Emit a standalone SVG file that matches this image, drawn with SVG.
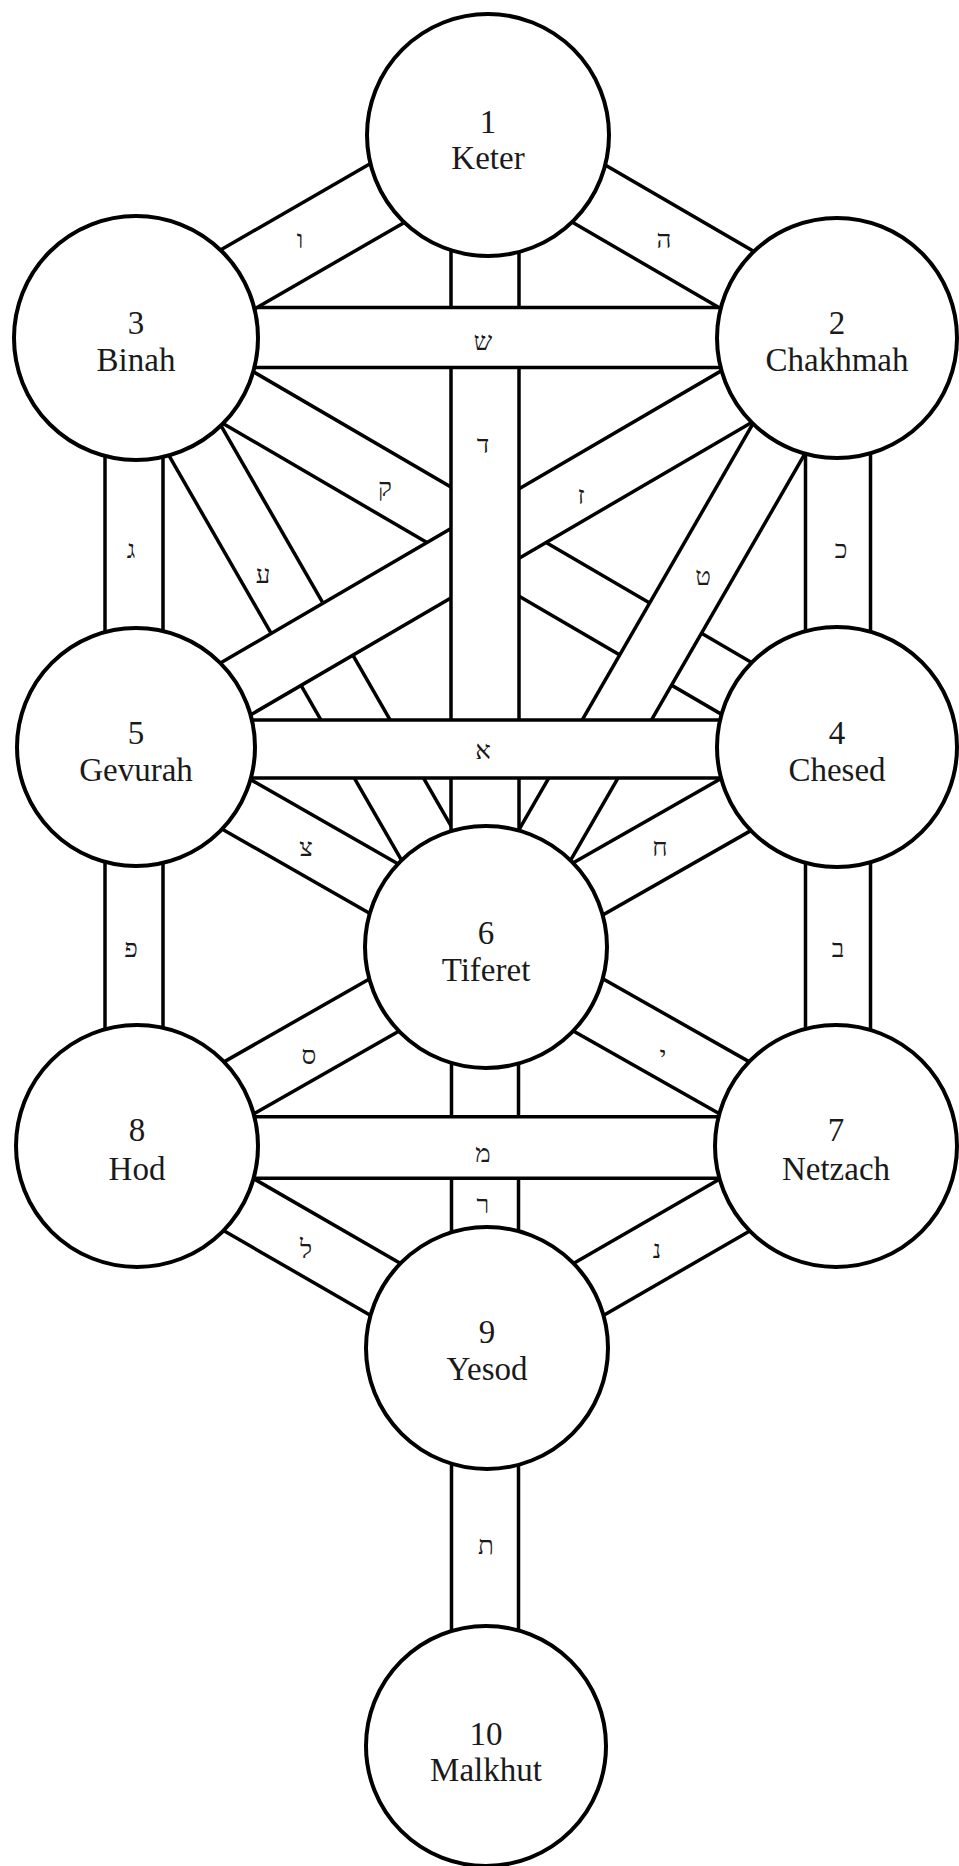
<svg xmlns="http://www.w3.org/2000/svg" xmlns:xlink="http://www.w3.org/1999/xlink" width="959" height="1866" viewBox="0 0 959 1866">
<style>
  .o{stroke:#000;stroke-linecap:butt;fill:none}
  .i{stroke:#fff;stroke-linecap:butt;fill:none}
  .node circle{fill:#fff;stroke:#000;stroke-width:4}
  .node text{font-family:"Liberation Serif","DejaVu Serif",serif;font-size:33px;fill:#1a1a1a;text-anchor:middle}
  .lbl{font-family:"Liberation Serif","DejaVu Sans",serif;font-size:26px;fill:#1a1a1a;text-anchor:middle}
</style>
<rect width="959" height="1866" fill="#fff"/>
<g id="connectors">
  <!-- qof: Binah-Chesed -->
  <g id="path-qof"><line class="o" stroke-width="63.5" x1="136" y1="338" x2="837" y2="747"/><line class="i" stroke-width="56.5" x1="136" y1="338" x2="837" y2="747"/></g>
  <!-- ayin: Binah-Tiferet -->
  <g id="path-ayin"><line class="o" stroke-width="63.5" x1="136" y1="338" x2="486" y2="947"/><line class="i" stroke-width="56.5" x1="136" y1="338" x2="486" y2="947"/></g>
  <!-- tet: Chakhmah-Tiferet -->
  <g id="path-tet"><line class="o" stroke-width="63.5" x1="837" y1="338" x2="486" y2="947"/><line class="i" stroke-width="56.5" x1="837" y1="338" x2="486" y2="947"/></g>
  <!-- zayin: Chakhmah-Gevurah -->
  <g id="path-zayin"><line class="o" stroke-width="63.5" x1="837" y1="338" x2="136" y2="747"/><line class="i" stroke-width="56.5" x1="837" y1="338" x2="136" y2="747"/></g>
  <!-- dalet: Keter-Tiferet -->
  <g id="path-dalet"><line class="o" stroke-width="71.5" x1="485" y1="135" x2="485" y2="947"/><line class="i" stroke-width="64.5" x1="485" y1="135" x2="485" y2="947"/></g>
  <!-- shin: Binah-Chakhmah -->
  <g id="path-shin"><line class="o" stroke-width="63.5" x1="136" y1="337.5" x2="837" y2="337.5"/><line class="i" stroke-width="56.5" x1="136" y1="337.5" x2="837" y2="337.5"/></g>
  <!-- alef: Gevurah-Chesed -->
  <g id="path-alef"><line class="o" stroke-width="61.5" x1="136" y1="749" x2="837" y2="749"/><line class="i" stroke-width="54.5" x1="136" y1="749" x2="837" y2="749"/></g>
  <!-- vav: Keter-Binah -->
  <g id="path-vav"><line class="o" stroke-width="71.5" x1="488" y1="135" x2="136" y2="338"/><line class="i" stroke-width="64.5" x1="488" y1="135" x2="136" y2="338"/></g>
  <!-- he: Keter-Chakhmah -->
  <g id="path-he"><line class="o" stroke-width="69.5" x1="488" y1="135" x2="837" y2="338"/><line class="i" stroke-width="62.5" x1="488" y1="135" x2="837" y2="338"/></g>
  <!-- gimel: Binah-Gevurah -->
  <g id="path-gimel"><line class="o" stroke-width="61.5" x1="134" y1="338" x2="134" y2="747"/><line class="i" stroke-width="54.5" x1="134" y1="338" x2="134" y2="747"/></g>
  <!-- kaf: Chakhmah-Chesed -->
  <g id="path-kaf"><line class="o" stroke-width="68.5" x1="838" y1="338" x2="838" y2="747"/><line class="i" stroke-width="61.5" x1="838" y1="338" x2="838" y2="747"/></g>
  <!-- tsadi: Gevurah-Tiferet -->
  <g id="path-tsadi"><line class="o" stroke-width="60.5" x1="136" y1="747" x2="486" y2="947"/><line class="i" stroke-width="53.5" x1="136" y1="747" x2="486" y2="947"/></g>
  <!-- chet: Chesed-Tiferet -->
  <g id="path-chet"><line class="o" stroke-width="63.5" x1="837" y1="747" x2="486" y2="947"/><line class="i" stroke-width="56.5" x1="837" y1="747" x2="486" y2="947"/></g>
  <!-- pe: Gevurah-Hod -->
  <g id="path-pe"><line class="o" stroke-width="61.5" x1="134" y1="747" x2="134" y2="1146"/><line class="i" stroke-width="54.5" x1="134" y1="747" x2="134" y2="1146"/></g>
  <!-- bet: Chesed-Netzach -->
  <g id="path-bet"><line class="o" stroke-width="68.5" x1="838" y1="747" x2="838" y2="1146"/><line class="i" stroke-width="61.5" x1="838" y1="747" x2="838" y2="1146"/></g>
  <!-- samekh: Tiferet-Hod -->
  <g id="path-samekh"><line class="o" stroke-width="63.5" x1="486" y1="947" x2="137" y2="1146"/><line class="i" stroke-width="56.5" x1="486" y1="947" x2="137" y2="1146"/></g>
  <!-- yod: Tiferet-Netzach -->
  <g id="path-yod"><line class="o" stroke-width="63.5" x1="486" y1="947" x2="837" y2="1146"/><line class="i" stroke-width="56.5" x1="486" y1="947" x2="837" y2="1146"/></g>
  <!-- resh: Tiferet-Yesod -->
  <g id="path-resh"><line class="o" stroke-width="70.5" x1="485" y1="947" x2="485" y2="1348"/><line class="i" stroke-width="63.5" x1="485" y1="947" x2="485" y2="1348"/></g>
  <!-- mem: Hod-Netzach -->
  <g id="path-mem"><line class="o" stroke-width="65" x1="137" y1="1147.5" x2="837" y2="1147.5"/><line class="i" stroke-width="58" x1="137" y1="1147.5" x2="837" y2="1147.5"/></g>
  <!-- lamed: Hod-Yesod -->
  <g id="path-lamed"><line class="o" stroke-width="63.5" x1="137" y1="1146" x2="487" y2="1348"/><line class="i" stroke-width="56.5" x1="137" y1="1146" x2="487" y2="1348"/></g>
  <!-- nun: Netzach-Yesod -->
  <g id="path-nun"><line class="o" stroke-width="63.5" x1="837" y1="1146" x2="487" y2="1348"/><line class="i" stroke-width="56.5" x1="837" y1="1146" x2="487" y2="1348"/></g>
  <!-- tav: Yesod-Malkhut -->
  <g id="path-tav"><line class="o" stroke-width="70.5" x1="485" y1="1348" x2="485" y2="1746"/><line class="i" stroke-width="63.5" x1="485" y1="1348" x2="485" y2="1746"/></g>

  <g id="path-labels">
    <text class="lbl" x="300" y="248">ו</text>
    <text class="lbl" x="664" y="248">ה</text>
    <text class="lbl" x="483" y="350">ש</text>
    <text class="lbl" x="483" y="453">ד</text>
    <text class="lbl" x="385" y="496">ק</text>
    <text class="lbl" x="581" y="504">ז</text>
    <text class="lbl" x="131" y="558">ג</text>
    <text class="lbl" x="263" y="583">ע</text>
    <text class="lbl" x="703" y="585">ט</text>
    <text class="lbl" x="841" y="558">כ</text>
    <text class="lbl" x="483" y="759">א</text>
    <text class="lbl" x="306" y="856">צ</text>
    <text class="lbl" x="660" y="856">ח</text>
    <text class="lbl" x="131" y="957">פ</text>
    <text class="lbl" x="838" y="957">ב</text>
    <text class="lbl" x="309" y="1064">ס</text>
    <text class="lbl" x="663" y="1064">י</text>
    <text class="lbl" x="483" y="1162">מ</text>
    <text class="lbl" x="483" y="1213">ר</text>
    <text class="lbl" x="306" y="1258">ל</text>
    <text class="lbl" x="657" y="1258">נ</text>
    <text class="lbl" x="486" y="1554">ת</text>
  </g>
</g>
<g id="node-1" class="node"><circle cx="488" cy="135" r="121"/><text x="488" y="133">1</text><text x="488" y="169">Keter</text></g>
<g id="node-2" class="node"><circle cx="837" cy="338" r="120"/><text x="837" y="334">2</text><text x="837" y="371">Chakhmah</text></g>
<g id="node-3" class="node"><circle cx="136" cy="338" r="122"/><text x="136" y="334">3</text><text x="136" y="371">Binah</text></g>
<g id="node-4" class="node"><circle cx="837" cy="747" r="120"/><text x="837" y="744">4</text><text x="837" y="781">Chesed</text></g>
<g id="node-5" class="node"><circle cx="136" cy="747" r="119"/><text x="136" y="744">5</text><text x="136" y="781">Gevurah</text></g>
<g id="node-6" class="node"><circle cx="486" cy="947" r="121"/><text x="486" y="944">6</text><text x="486" y="981">Tiferet</text></g>
<g id="node-7" class="node"><circle cx="836" cy="1146" r="121"/><text x="836" y="1141">7</text><text x="836" y="1180">Netzach</text></g>
<g id="node-8" class="node"><circle cx="137" cy="1146" r="121"/><text x="137" y="1141">8</text><text x="137" y="1180">Hod</text></g>
<g id="node-9" class="node"><circle cx="487" cy="1348" r="121"/><text x="487" y="1343">9</text><text x="487" y="1380">Yesod</text></g>
<g id="node-10" class="node"><circle cx="486" cy="1746" r="120"/><text x="486" y="1745">10</text><text x="486" y="1781">Malkhut</text></g>
</svg>
